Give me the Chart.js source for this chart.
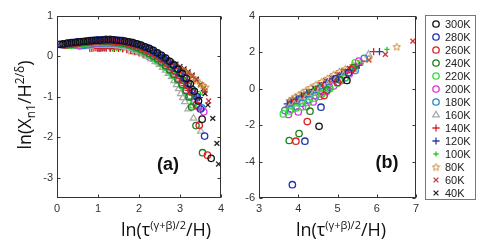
<!DOCTYPE html>
<html lang="en">
<head>
<meta charset="UTF-8">
<title>Scaling plots</title>
<script src="https://cdn.jsdelivr.net/npm/chart.js@4.4.0/dist/chart.umd.min.js"></script>
<style>
  body { margin: 0; background: #fff; width: 480px; height: 249px; overflow: hidden; position: relative; }
  canvas { position: absolute; top: 0; }
  #chartA { left: 0; }
  #chartB { left: 240px; }
</style>
</head>
<body>
<canvas id="chartA" width="240" height="249"></canvas>
<canvas id="chartB" width="240" height="249"></canvas>
<script>
// series labels (temperatures)
const labels = ['300K','280K','260K','240K','220K','200K','180K','160K','140K','120K','100K','80K','60K','40K'];

// panel (a): [x, y] pairs
const a300 = [[0.07,0.30],[0.15,0.31],[0.25,0.33],[0.35,0.34],[0.45,0.35],[0.55,0.36],[0.65,0.37],[0.75,0.38],[0.85,0.39],[0.95,0.40],[1.05,0.40],[1.15,0.41],[1.25,0.41],[1.35,0.41],[1.45,0.40],[1.55,0.39],[1.65,0.38],[1.75,0.36],[1.85,0.34],[1.95,0.31],[2.05,0.28],[2.15,0.24],[2.25,0.20],[2.35,0.15],[2.45,0.09],[2.55,0.03],[2.65,-0.04],[2.75,-0.12],[2.85,-0.21],[2.95,-0.31],[3.05,-0.42],[3.15,-0.54],[3.25,-0.68],[3.35,-0.86],[3.45,-1.1],[3.54,-1.55],[3.76,-2.52]];
const a280 = [[0.12,0.29],[0.2,0.31],[0.3,0.33],[0.4,0.34],[0.5,0.36],[0.6,0.37],[0.7,0.38],[0.8,0.39],[0.9,0.40],[1.0,0.41],[1.1,0.41],[1.2,0.42],[1.3,0.42],[1.4,0.41],[1.5,0.40],[1.6,0.39],[1.7,0.37],[1.8,0.35],[1.9,0.32],[2.0,0.29],[2.1,0.25],[2.2,0.21],[2.3,0.16],[2.4,0.10],[2.5,0.04],[2.6,-0.03],[2.7,-0.11],[2.8,-0.20],[2.9,-0.30],[3.0,-0.41],[3.1,-0.53],[3.2,-0.66],[3.3,-0.82],[3.42,-1.0],[3.5,-1.3],[3.6,-1.97]];
const a260 = [[0.18,0.28],[0.28,0.30],[0.38,0.32],[0.48,0.33],[0.58,0.35],[0.68,0.36],[0.78,0.37],[0.88,0.38],[0.98,0.38],[1.08,0.39],[1.18,0.39],[1.28,0.39],[1.38,0.38],[1.48,0.37],[1.58,0.36],[1.68,0.34],[1.78,0.32],[1.88,0.29],[1.98,0.26],[2.08,0.22],[2.18,0.17],[2.28,0.12],[2.38,0.06],[2.48,-0.01],[2.58,-0.08],[2.68,-0.17],[2.78,-0.26],[2.88,-0.36],[2.98,-0.47],[3.08,-0.59],[3.18,-0.72],[3.28,-0.88],[3.4,-1.2],[3.47,-1.7],[3.67,-2.44]];
const a240 = [[0.25,0.28],[0.35,0.30],[0.45,0.31],[0.55,0.33],[0.65,0.34],[0.75,0.35],[0.85,0.36],[0.95,0.37],[1.05,0.37],[1.15,0.37],[1.25,0.37],[1.35,0.36],[1.45,0.35],[1.55,0.34],[1.65,0.32],[1.75,0.29],[1.85,0.26],[1.95,0.22],[2.05,0.18],[2.15,0.13],[2.25,0.07],[2.35,0.01],[2.45,-0.06],[2.55,-0.14],[2.65,-0.23],[2.75,-0.33],[2.85,-0.44],[2.95,-0.56],[3.05,-0.69],[3.15,-0.84],[3.22,-1.0],[3.28,-1.25],[3.39,-1.71],[3.55,-2.38]];
const a220 = [[0.35,0.27],[0.45,0.29],[0.55,0.30],[0.65,0.32],[0.75,0.33],[0.85,0.34],[0.95,0.35],[1.05,0.36],[1.15,0.36],[1.25,0.36],[1.35,0.35],[1.45,0.34],[1.55,0.33],[1.65,0.31],[1.75,0.28],[1.85,0.25],[1.95,0.21],[2.05,0.16],[2.15,0.11],[2.25,0.05],[2.35,-0.02],[2.45,-0.09],[2.55,-0.17],[2.65,-0.26],[2.75,-0.36],[2.85,-0.47],[2.95,-0.59],[3.05,-0.72],[3.15,-0.86],[3.22,-0.97],[3.32,-1.2]];
const a200 = [[0.45,0.27],[0.55,0.28],[0.65,0.30],[0.75,0.31],[0.85,0.33],[0.95,0.34],[1.05,0.34],[1.15,0.35],[1.25,0.35],[1.35,0.34],[1.45,0.34],[1.55,0.33],[1.65,0.31],[1.75,0.29],[1.85,0.26],[1.95,0.22],[2.05,0.18],[2.15,0.13],[2.25,0.07],[2.35,0.01],[2.45,-0.06],[2.55,-0.14],[2.65,-0.23],[2.75,-0.33],[2.85,-0.44],[2.95,-0.56],[3.05,-0.69],[3.15,-0.83],[3.25,-0.98],[3.35,-1.13],[3.45,-1.25],[3.58,-1.37]];
const a180 = [[0.55,0.26],[0.65,0.27],[0.75,0.29],[0.85,0.30],[0.95,0.32],[1.05,0.32],[1.15,0.33],[1.25,0.33],[1.35,0.33],[1.45,0.32],[1.55,0.31],[1.65,0.30],[1.75,0.27],[1.85,0.24],[1.95,0.20],[2.05,0.16],[2.15,0.11],[2.25,0.05],[2.35,-0.02],[2.45,-0.09],[2.55,-0.17],[2.65,-0.26],[2.75,-0.36],[2.85,-0.47],[2.95,-0.59],[3.05,-0.72],[3.15,-0.86],[3.25,-1.0],[3.35,-1.12],[3.45,-1.22],[3.53,-1.27]];
const a160 = [[0.7,0.24],[0.8,0.25],[0.9,0.27],[1.0,0.27],[1.1,0.28],[1.2,0.28],[1.3,0.28],[1.4,0.27],[1.5,0.26],[1.6,0.24],[1.7,0.22],[1.8,0.19],[1.9,0.15],[2.0,0.11],[2.1,0.06],[2.2,0.0],[2.3,-0.06],[2.4,-0.13],[2.5,-0.2],[2.58,-0.27],[2.65,-0.34],[2.72,-0.42],[2.8,-0.5],[2.86,-0.6],[2.92,-0.7],[2.97,-0.8],[3.02,-0.92],[3.07,-1.02],[3.12,-1.12],[3.2,-1.3],[3.33,-1.53],[3.51,-1.85]];
const a140 = [[0.8,0.2],[0.85,0.2],[0.9,0.21],[0.95,0.21],[1.0,0.22],[1.05,0.22],[1.1,0.22],[1.15,0.22],[1.2,0.22],[1.3,0.21],[1.4,0.21],[1.5,0.2],[1.6,0.19],[1.7,0.17],[1.8,0.15],[1.9,0.12],[2.0,0.09],[2.1,0.05],[2.2,0.0],[2.3,-0.05],[2.4,-0.11],[2.5,-0.17],[2.6,-0.24],[2.7,-0.32],[2.8,-0.41],[2.9,-0.5],[3.0,-0.61],[3.1,-0.72],[3.2,-0.84],[3.3,-0.95],[3.38,-1.05]];
const a120 = [[1.0,0.2],[1.05,0.2],[1.1,0.21],[1.15,0.21],[1.2,0.21],[1.3,0.21],[1.4,0.2],[1.5,0.2],[1.6,0.19],[1.7,0.18],[1.8,0.16],[1.9,0.14],[2.0,0.11],[2.1,0.07],[2.2,0.03],[2.3,-0.02],[2.4,-0.07],[2.5,-0.13],[2.6,-0.2],[2.7,-0.28],[2.8,-0.36],[2.9,-0.45],[3.0,-0.55],[3.1,-0.66],[3.2,-0.78],[3.3,-0.9],[3.4,-0.98],[3.47,-1.02]];
const a100 = [[1.3,0.18],[1.35,0.18],[1.4,0.19],[1.45,0.19],[1.5,0.19],[1.55,0.19],[1.6,0.18],[1.7,0.17],[1.8,0.16],[1.9,0.14],[2.0,0.12],[2.1,0.09],[2.2,0.05],[2.3,0.01],[2.4,-0.04],[2.5,-0.1],[2.6,-0.16],[2.7,-0.23],[2.8,-0.3],[2.9,-0.38],[3.0,-0.47],[3.1,-0.56],[3.2,-0.66],[3.28,-0.74],[3.35,-0.8],[3.42,-0.87],[3.5,-0.93]];
const a80 = [[1.8,0.14],[1.85,0.14],[1.9,0.13],[1.95,0.13],[2.0,0.12],[2.05,0.11],[2.1,0.1],[2.15,0.09],[2.2,0.07],[2.3,0.04],[2.4,0.01],[2.5,-0.03],[2.6,-0.08],[2.7,-0.13],[2.8,-0.18],[2.9,-0.24],[3.0,-0.3],[3.1,-0.37],[3.2,-0.44],[3.3,-0.52],[3.4,-0.6],[3.5,-0.68],[3.56,-0.72],[3.62,-0.76]];
const a60 = [[2.0,0.1],[2.1,0.08],[2.2,0.06],[2.3,0.03],[2.4,0.0],[2.5,-0.04],[2.6,-0.08],[2.7,-0.13],[2.8,-0.18],[2.9,-0.23],[3.0,-0.29],[3.1,-0.35],[3.2,-0.42],[3.3,-0.5],[3.4,-0.59],[3.5,-0.7],[3.6,-0.85],[3.7,-1.1]];
const a40 = [[2.2,0.08],[2.3,0.05],[2.4,0.02],[2.5,-0.01],[2.6,-0.05],[2.7,-0.09],[2.8,-0.14],[2.9,-0.19],[3.0,-0.25],[3.1,-0.31],[3.2,-0.38],[3.3,-0.46],[3.4,-0.56],[3.5,-0.69],[3.57,-0.8],[3.61,-0.92],[3.68,-1.2],[3.8,-1.53],[3.9,-2.15],[3.94,-2.66]];

// panel (b)
const b300 = [[4.53,-2.06],[5.24,0.46]];
const b280 = [[3.85,-5.27],[4.17,-2.88],[4.58,-1.01],[4.95,0.55],[5.28,0.88]];
const b260 = [[3.94,-2.88],[4.23,-1.8],[4.66,-0.37],[5.0,0.35],[5.35,1.05]];
const b240 = [[3.77,-2.84],[4.02,-2.46],[4.3,-1.23],[4.73,-0.07],[5.05,0.5],[5.4,1.15]];
const b220 = [[3.62,-1.38],[3.78,-1.22],[3.95,-1.05],[4.11,-0.99],[4.25,-0.75],[4.42,-0.52],[4.6,-0.28],[4.8,0.0],[5.0,0.3],[5.2,0.6],[5.45,1.43]];
const b200 = [[3.75,-1.41],[4.0,-1.27],[4.2,-0.98],[4.38,-0.72],[4.55,-0.42],[4.72,-0.15],[4.9,0.15],[5.1,0.45],[5.3,0.82],[5.54,1.52]];
const b180 = [[3.66,-1.19],[3.82,-1.12],[3.95,-0.98],[4.1,-0.8],[4.28,-0.6],[4.45,-0.38],[4.62,-0.15],[4.8,0.08],[5.0,0.35],[5.2,0.62],[5.45,1.0],[5.68,1.67]];
const b160 = [[3.78,-1.0],[3.9,-0.85],[4.05,-0.68],[4.2,-0.48],[4.38,-0.26],[4.55,-0.04],[4.75,0.22],[4.95,0.48],[5.15,0.75],[5.4,1.05],[5.79,1.89]];
const b140 = [[3.75,-0.95],[3.85,-0.82],[3.98,-0.66],[4.12,-0.48],[4.28,-0.28],[4.45,-0.06],[4.62,0.15],[4.8,0.38],[5.0,0.62],[5.2,0.88],[5.45,1.15],[5.92,2.04]];
const b120 = [[3.72,-0.83],[3.82,-0.72],[3.95,-0.58],[4.08,-0.42],[4.22,-0.25],[4.38,-0.05],[4.55,0.15],[4.72,0.36],[4.9,0.56],[5.1,0.8],[5.3,1.05],[5.55,1.3],[6.07,2.04]];
const b100 = [[3.78,-0.78],[3.88,-0.65],[4.0,-0.5],[4.12,-0.35],[4.25,-0.18],[4.4,0.0],[4.55,0.2],[4.7,0.38],[4.85,0.55],[5.0,0.72],[5.2,0.95],[5.4,1.15],[5.6,1.4],[6.26,2.17]];
const b80 = [[3.78,-0.65],[3.85,-0.55],[3.92,-0.45],[4.0,-0.35],[4.1,-0.22],[4.2,-0.08],[4.32,0.07],[4.45,0.22],[4.6,0.4],[4.75,0.58],[4.9,0.78],[5.05,0.95],[5.2,1.1],[5.4,1.28],[5.6,1.5],[5.8,1.68],[6.51,2.31]];
const b60 = [[3.8,-0.7],[3.9,-0.58],[4.0,-0.45],[4.12,-0.3],[4.25,-0.14],[4.4,0.05],[4.55,0.25],[4.7,0.45],[4.85,0.62],[5.0,0.8],[5.15,0.98],[5.3,1.12],[5.5,1.3],[5.8,1.58],[6.22,1.89],[6.92,2.62]];
const b40 = [[3.85,-0.75],[3.95,-0.62],[4.05,-0.5],[4.17,-0.35],[4.3,-0.2],[4.45,0.0],[4.6,0.2],[4.75,0.4],[4.9,0.58],[5.05,0.76],[5.2,0.95],[5.35,1.1],[5.5,1.25]];

const seriesA = [a300,a280,a260,a240,a220,a200,a180,a160,a140,a120,a100,a80,a60,a40];
const seriesB = [b300,b280,b260,b240,b220,b200,b180,b160,b140,b120,b100,b80,b60,b40];

// axis ticks
const ticksAx = [0,1,2,3,4];
const ticksAy = [1,0,-1,-2,-3];
const ticksBx = [3,4,5,6,7];
const ticksBy = [4,2,0,-2,-4,-6];

// marker styles
const colors = ['#111111','#2030b0','#dd2020','#1e7f1e','#33dd33','#dd30dd','#2a85c5','#aaaaaa','#dd2222','#2a3aa8','#22cc22','#c98a3a','#cc3030','#222222'];
const styles = ['circle','circle','circle','circle','circle','circle','circle','triangle','cross','cross','cross','pent','crossRot','crossRot'];
const radii  = [3.2,3.2,3.2,3.2,3.2,3.2,3.2,3.8,3.6,3.6,2.6,3.6,3.4,3.4];

function starCanvas(color) {
  const c = document.createElement('canvas');
  c.width = 9; c.height = 9;
  const g = c.getContext('2d');
  g.strokeStyle = color; g.lineWidth = 1;
  g.beginPath();
  for (let i = 0; i < 10; i++) {
    const r = i % 2 ? 1.7 : 3.9;
    const ang = -Math.PI / 2 + i * Math.PI / 5;
    const px = 4.5 + r * Math.cos(ang), py = 4.8 + r * Math.sin(ang);
    i ? g.lineTo(px, py) : g.moveTo(px, py);
  }
  g.closePath(); g.stroke();
  return c;
}
const star = starCanvas('#c98a3a');

function pStyle(i) { return styles[i] === 'pent' ? star : styles[i]; }

function makeDatasets(series) {
  return series.map((pts, i) => ({
    label: labels[i],
    data: pts.map(p => ({x: p[0], y: p[1]})),
    showLine: false,
    pointStyle: pStyle(i),
    pointRadius: radii[i],
    pointBorderWidth: 1.3,
    borderColor: colors[i],
    pointBorderColor: colors[i],
    pointBackgroundColor: 'rgba(0,0,0,0)'
  }));
}

function richWidth(ctx, parts) {
  let w = 0;
  parts.forEach(p => { ctx.font = p.f; w += ctx.measureText(p.t).width; });
  return w;
}
function drawRich(ctx, parts, x, y) {
  let cx = x;
  parts.forEach(p => {
    ctx.font = p.f;
    ctx.fillText(p.t, cx, y + (p.dy || 0));
    cx += ctx.measureText(p.t).width;
  });
}

const TF = '"Open Sans", sans-serif';
const xTitle = [
  {t: 'ln(τ', f: '18px ' + TF},
  {t: '(γ+β)/2', f: '11px ' + TF, dy: -7},
  {t: '/H)', f: '18px ' + TF}
];
const yTitle = [
  {t: 'ln(X', f: '18px ' + TF},
  {t: 'n1', f: '12px ' + TF, dy: 4},
  {t: '/H', f: '18px ' + TF},
  {t: '2/δ', f: '12px ' + TF, dy: -7},
  {t: ')', f: '18px ' + TF}
];

// frame with inward ticks on all four sides, plus titles
const framePlugin = {
  id: 'frame',
  afterDraw(chart, args, o) {
    const {ctx, chartArea: a, scales: {x, y}} = chart;
    ctx.save();
    ctx.strokeStyle = '#333';
    ctx.lineWidth = 1;
    const L = Math.round(a.left) + 0.5, R = Math.round(a.right) - 0.5;
    const T = Math.round(a.top) + 0.5, B = Math.round(a.bottom) - 0.5;
    ctx.strokeRect(L, T, R - L, B - T);
    ctx.beginPath();
    o.xt.forEach(v => {
      const px = Math.round(x.getPixelForValue(v)) + 0.5;
      ctx.moveTo(px, B); ctx.lineTo(px, B - 3);
      ctx.moveTo(px, T); ctx.lineTo(px, T + 3);
    });
    o.yt.forEach(v => {
      const py = Math.round(y.getPixelForValue(v)) + 0.5;
      ctx.moveTo(L, py); ctx.lineTo(L + 3, py);
      ctx.moveTo(R, py); ctx.lineTo(R - 3, py);
    });
    ctx.stroke();

    ctx.fillStyle = '#111';
    ctx.textBaseline = 'alphabetic';
    const w = richWidth(ctx, xTitle);
    drawRich(ctx, xTitle, o.xtx - w / 2, 236);
    if (o.ytitle) {
      const wy = richWidth(ctx, yTitle);
      ctx.translate(31, 105);
      ctx.rotate(-Math.PI / 2);
      drawRich(ctx, yTitle, -wy / 2, 0);
      ctx.setTransform(1, 0, 0, 1, 0, 0);
    }
    ctx.font = 'bold 18px "Liberation Sans", Arial, sans-serif';
    ctx.textAlign = 'center';
    ctx.textBaseline = 'middle';
    ctx.fillText(o.tag, o.tagX, o.tagY);
    ctx.restore();
  }
};

function drawMarker(ctx, i, x, y) {
  const r = radii[i];
  ctx.strokeStyle = colors[i];
  ctx.lineWidth = 1.3;
  ctx.beginPath();
  switch (styles[i]) {
    case 'circle': ctx.arc(x, y, r, 0, Math.PI * 2); break;
    case 'triangle':
      ctx.moveTo(x, y - r);
      ctx.lineTo(x + r * 0.866, y + r * 0.5);
      ctx.lineTo(x - r * 0.866, y + r * 0.5);
      ctx.closePath(); break;
    case 'cross':
      ctx.moveTo(x - r, y); ctx.lineTo(x + r, y);
      ctx.moveTo(x, y - r); ctx.lineTo(x, y + r); break;
    case 'crossRot': {
      const d = r * 0.707;
      ctx.moveTo(x - d, y - d); ctx.lineTo(x + d, y + d);
      ctx.moveTo(x + d, y - d); ctx.lineTo(x - d, y + d); break;
    }
    case 'pent':
      ctx.drawImage(star, x - 4.5, y - 4.5); return;
  }
  ctx.stroke();
}

const legendPlugin = {
  id: 'sideLegend',
  afterDraw(chart) {
    const ctx = chart.ctx;
    ctx.save();
    ctx.strokeStyle = '#777';
    ctx.lineWidth = 1;
    ctx.strokeRect(185.5, 15.5, 50, 184);
    ctx.font = '11px "Liberation Sans", Arial, sans-serif';
    ctx.textBaseline = 'middle';
    labels.forEach((lab, i) => {
      const cy = 24 + i * 13;
      drawMarker(ctx, i, 196, cy);
      ctx.fillStyle = '#222';
      ctx.fillText(lab, 205, cy + 0.5);
    });
    ctx.restore();
  }
};

const tickFont = {family: '"Liberation Sans", Arial, sans-serif', size: 11};

function makeChart(id, series, xr, yr, xt, yt, yw, padR, extra, plugins) {
  return new Chart(document.getElementById(id), {
    type: 'scatter',
    data: {datasets: makeDatasets(series)},
    options: {
      responsive: false,
      animation: false,
      layout: {padding: {left: 0, right: padR, top: 16, bottom: 0}},
      plugins: {legend: {display: false}, tooltip: {enabled: false}, frame: extra},
      scales: {
        x: {
          type: 'linear', min: xr[0], max: xr[1],
          grid: {display: false, drawTicks: false},
          border: {display: false},
          afterFit: s => { s.height = 51; },
          afterBuildTicks: s => { s.ticks = xt.map(v => ({value: v})); },
          ticks: {font: tickFont, color: '#333', padding: 4, maxRotation: 0}
        },
        y: {
          type: 'linear', min: yr[0], max: yr[1],
          grid: {display: false, drawTicks: false},
          border: {display: false},
          afterFit: s => { s.width = yw; },
          afterBuildTicks: s => { s.ticks = yt.map(v => ({value: v})); },
          ticks: {font: tickFont, color: '#333', padding: 4}
        }
      }
    },
    plugins: plugins
  });
}

makeChart('chartA', seriesA, [0, 4], [-3.5, 1], ticksAx, ticksAy, 57, 19,
  {xt: ticksAx, yt: ticksAy, xtx: 166, ytitle: true, tag: '(a)', tagX: 168, tagY: 165},
  [framePlugin]);
makeChart('chartB', seriesB, [3, 7], [-6, 4], ticksBx, ticksBy, 19, 64,
  {xt: ticksBx, yt: ticksBy, xtx: 101, ytitle: false, tag: '(b)', tagX: 147, tagY: 163},
  [framePlugin, legendPlugin]);
</script>
</body>
</html>
